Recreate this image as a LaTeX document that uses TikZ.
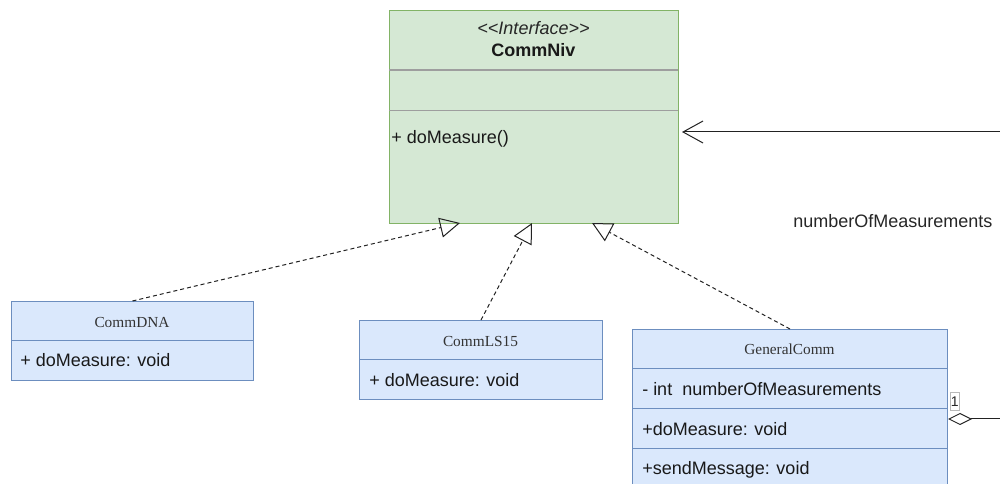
\documentclass[tikz,border=0pt]{standalone}
\usepackage{fontspec}
\setmainfont{Liberation Serif}
\setsansfont{Liberation Sans}
\usetikzlibrary{arrows.meta}

\definecolor{ifacefill}{HTML}{D5E8D4}
\definecolor{ifaceline}{HTML}{82B366}
\definecolor{clsfill}{HTML}{DAE8FC}
\definecolor{clsline}{HTML}{6C8EBF}
\definecolor{sepgray}{HTML}{9E9E9E}
\definecolor{titlegray}{HTML}{333333}
\definecolor{inkline}{HTML}{222222}

\tikzset{
  umlbox/.style={draw, line width=0.75pt, inner sep=0pt, anchor=north west},
  ifacebox/.style={umlbox, draw=ifaceline, fill=ifacefill},
  classbox/.style={umlbox, draw=clsline, fill=clsfill},
  ifacesep/.style={draw=sepgray, line width=0.9pt},
  classsep/.style={draw=clsline, line width=0.75pt},
  classtitle/.style={font=\fontsize{11.5}{13}\selectfont, text=titlegray, anchor=base, inner sep=0pt},
  member/.style={font=\sffamily\fontsize{13.5}{16}\selectfont, text=black!90, anchor=base west, inner sep=0pt},
  realizes/.style={draw=inkline, line width=0.75pt, dash pattern=on 3pt off 2.25pt,
    -{Triangle[open, length=15pt, width=15pt, line width=0.75pt]}},
  assoc/.style={draw=inkline, line width=0.75pt,
    -{Straight Barb[length=15pt, width=16.5pt, line width=0.75pt]}},
  aggreg/.style={draw=inkline, line width=0.75pt,
    -{Diamond[open, length=18pt, width=9pt, line width=0.75pt]}},
  multlabel/.style={draw=gray!55, line width=0.5pt, inner xsep=0.5pt, inner ysep=0pt,
    minimum height=14pt, font=\sffamily\fontsize{10.5}{11}\selectfont, text=black!85}
}

\begin{document}
\begin{tikzpicture}[x=0.75pt, y=-0.75pt]
\useasboundingbox (0,0) rectangle (1000,484);
\clip (0,0) rectangle (1000,484);

% interface CommNiv
\node[ifacebox, minimum width=216.75pt, minimum height=159.75pt] (niv) at (389,10) {};
\draw[ifacesep] (389,70) -- (678,70);
\draw[ifacesep] (389,110.5) -- (678,110.5);
\node[anchor=base, inner sep=0pt, font=\sffamily\itshape\fontsize{13.5}{16}\selectfont, text=black!85] (nivstereo) at (533.5,35) {<{}<Interface>{}>};
\node[anchor=base, inner sep=0pt, font=\sffamily\bfseries\fontsize{13.5}{16}\selectfont, text=black!90] (nivname) at (533.5,56.5) {CommNiv};
\node[member] (nivop) at (391,144) {+ doMeasure()};

% class CommDNA
\node[classbox, minimum width=181.5pt, minimum height=59.25pt] (dna) at (11,301) {};
\draw[classsep] (11,341) -- (253,341);
\node[classtitle] (dnaname) at (132,327.5) {CommDNA};
\node[member] (dnaop) at (20,367) {+ doMeasure: void};

% class CommLS15
\node[classbox, minimum width=182.25pt, minimum height=59.25pt] (ls) at (359,320) {};
\draw[classsep] (359,360) -- (602,360);
\node[classtitle] (lsname) at (480.5,346.5) {CommLS15};
\node[member] (lsop) at (369,386.5) {+ doMeasure: void};

% class GeneralComm
\node[classbox, minimum width=236.25pt, minimum height=127.5pt] (gc) at (632,329) {};
\draw[classsep] (632,369) -- (947,369);
\draw[classsep] (632,409) -- (947,409);
\draw[classsep] (632,449) -- (947,449);
\node[classtitle] (gcname) at (789.5,355) {GeneralComm};
\node[member] (gcattr) at (642,396) {- int~ numberOfMeasurements};
\node[member] (gcop1) at (642,435.5) {+doMeasure: void};
\node[member] (gcop2) at (642,475) {+sendMessage: void};

% realization arrows
\coordinate (tipdna) at (460,223);
\coordinate (tipls) at (532,223);
\coordinate (tipgc) at (592,223);
\draw[realizes] (dna.north) -- (tipdna);
\draw[realizes] (ls.north) -- (tipls);
\draw[realizes] (gc.north) -- (tipgc);

% association towards CommNiv
\coordinate (assocfrom) at (1000,132);
\coordinate (assocto) at (682,132);
\draw[assoc] (assocfrom) -- (assocto);
\node[anchor=base west, inner sep=0pt, font=\sffamily\fontsize{13.5}{16}\selectfont, text=black!85] (assoclabel) at (793,228) {numberOfMeasurements};

% aggregation at GeneralComm
\coordinate (aggfrom) at (1000,419);
\draw[aggreg] (aggfrom) -- (gc.east |- aggfrom);
\node[multlabel] (aggmult) at (954.7,401.3) {1};
\end{tikzpicture}
\end{document}
